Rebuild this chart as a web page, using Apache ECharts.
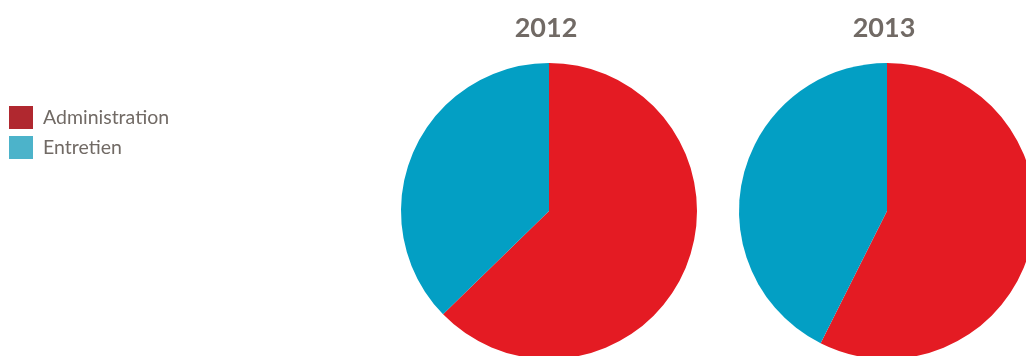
<!DOCTYPE html>
<html>
<head>
<meta charset="utf-8">
<script src="https://cdn.jsdelivr.net/npm/echarts@6/dist/echarts.min.js"></script>
<style>
  html, body { margin: 0; padding: 0; background: #ffffff; }
  #chart { width: 1026px; height: 356px; }
</style>
</head>
<body>
<div id="chart"></div>
<script>
// Répartition des coûts par année
const years = ['2012', '2013'];
const categories = ['Administration', 'Entretien'];
const values2012 = [62.7, 37.3];
const values2013 = [57.4, 42.6];

const sliceColors = ['#e41b23', '#039fc4'];
const legendColors = ['#b0282f', '#4cb3ca'];
const textGray = '#716a65';

const chart = echarts.init(document.getElementById('chart'), null, { renderer: 'canvas' });

const centers = [[549, 211], [887, 211]];
const seriesValues = [values2012, values2013];

chart.setOption({
  animation: false,
  backgroundColor: '#ffffff',
  title: years.map((y, i) => ({
    text: y,
    left: centers[i][0] - 3,
    top: 15,
    padding: 0,
    textAlign: 'center',
    textStyle: {
      fontFamily: 'Lato',
      fontWeight: 'bold',
      fontSize: 27,
      color: textGray
    }
  })),
  legend: {
    orient: 'vertical',
    left: 9,
    top: 106,
    padding: 0,
    itemWidth: 24,
    itemHeight: 23,
    itemGap: 7,
    icon: 'rect',
    selectedMode: false,
    textStyle: { fontFamily: 'Lato', fontSize: 19.5, color: textGray, padding: [0, 0, 0, 5] },
    data: categories.map((c, i) => ({ name: c, itemStyle: { color: legendColors[i] } }))
  },
  series: years.map((y, i) => ({
    type: 'pie',
    name: y,
    center: centers[i],
    radius: 148,
    startAngle: 90,
    clockwise: true,
    label: { show: false },
    labelLine: { show: false },
    silent: true,
    itemStyle: { borderWidth: 0 },
    data: categories.map((c, k) => ({
      name: c,
      value: seriesValues[i][k],
      itemStyle: { color: sliceColors[k] }
    }))
  }))
});
</script>
</body>
</html>
